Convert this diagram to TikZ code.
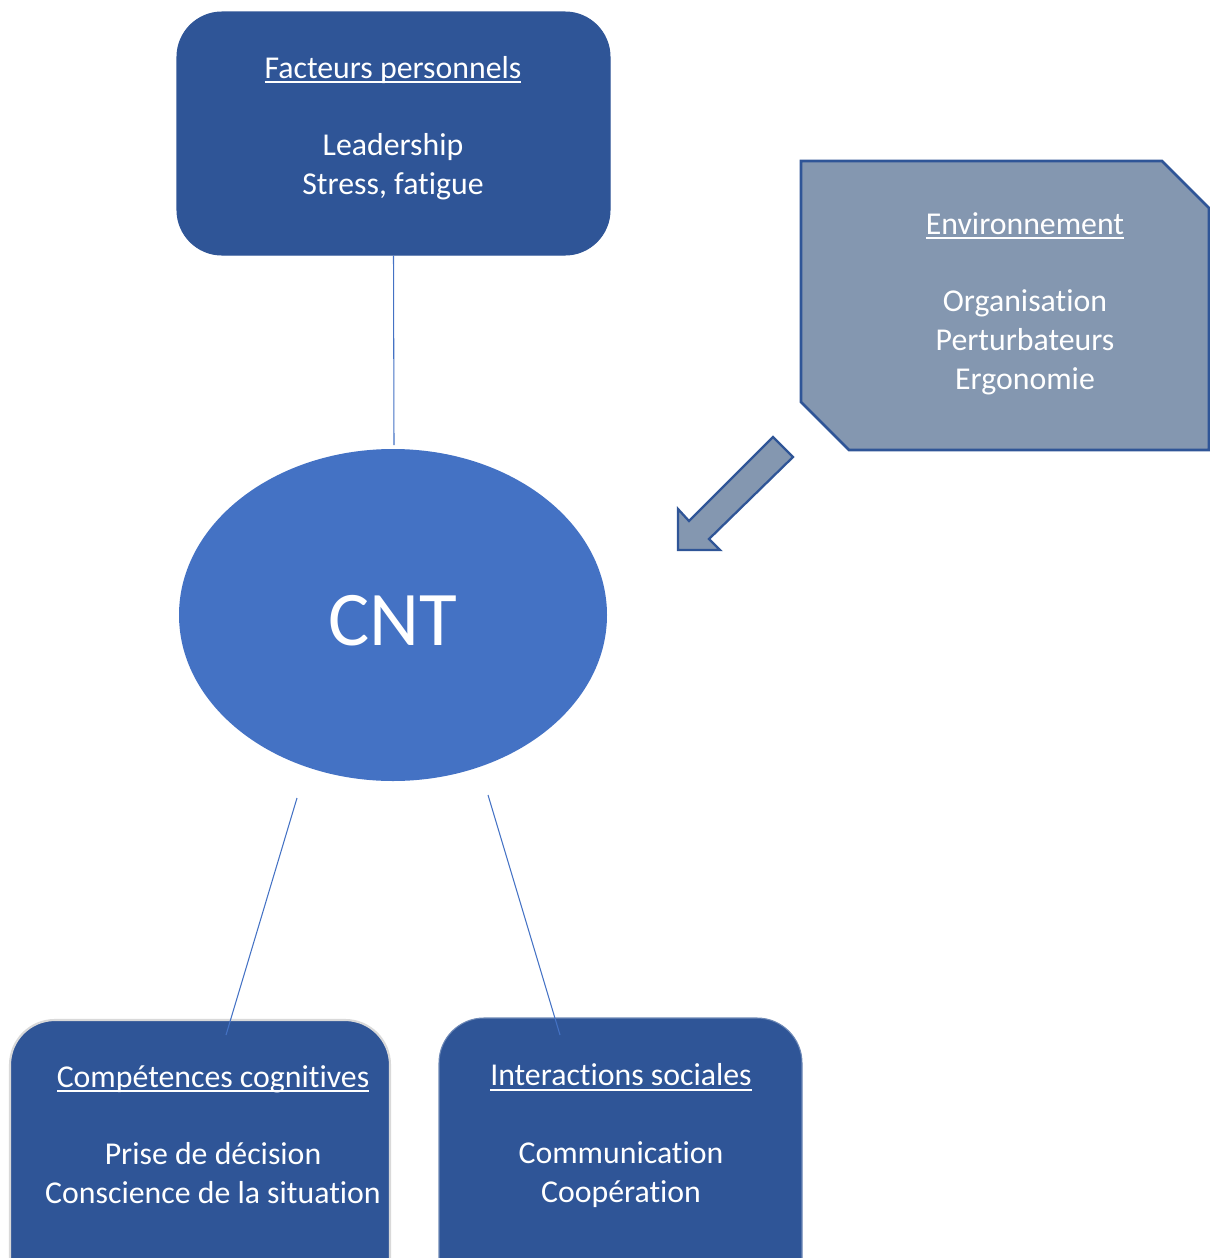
\documentclass[tikz,border=0pt]{standalone}
\usepackage{fontspec}
\setmainfont[Ligatures=NoCommon]{Carlito}
\newcommand\myul[1]{\setbox0\hbox{#1}\leavevmode\rlap{\rule[-3.0pt]{\wd0}{1.1pt}}\box0}
\usetikzlibrary{shapes.geometric}
\definecolor{dkblue}{HTML}{2F5597}
\definecolor{midblue}{HTML}{4472C4}
\definecolor{greyblue}{HTML}{8497B0}
\definecolor{edgegrey}{HTML}{D9D9D9}
\tikzset{
  box/.style={rectangle, rounded corners=0.9cm, fill=dkblue, inner sep=0pt},
  txt/.style={text=white, align=center, font=\fontsize{18.1}{22.1}\selectfont, inner sep=0pt},
  link/.style={draw=midblue, line width=0.6pt},
}
\begin{document}
\begin{tikzpicture}[x=0.02cm, y=-0.02cm]
\useasboundingbox (0,0) rectangle (1210,1258);
\clip (0,0) rectangle (1210,1258);
% top box
\node[box, draw=dkblue, line width=0.6pt, minimum width=433*0.02cm, minimum height=243*0.02cm] (fp) at (393.5,133.5) {};
\node[txt] (fpt) at (393,128) {\myul{Facteurs personnels}\\ \\ Leadership\\ Stress, fatigue};
% environment box
\draw[fill=greyblue, draw=dkblue, line width=1.6pt] (801,161) -- (1162,161) -- (1209,208) -- (1209,450) -- (849,450) -- (801,402) -- cycle;
\node[txt] (envt) at (1025,303.5) {\myul{Environnement}\\ \\ Organisation\\ Perturbateurs\\ Ergonomie};
% arrow
\draw[fill=greyblue, draw=dkblue, line width=1.3pt, line join=miter] (773,437) -- (793,457) -- (709,539) -- (720,550) -- (678,550) -- (678,509) -- (689,521) -- cycle;
% ellipse
\node[ellipse, fill=midblue, minimum width=428*0.02cm, minimum height=332*0.02cm, inner sep=0pt] (cnt) at (393,615) {};
\node[text=white, font=\fontsize{44}{50}\selectfont, inner sep=0pt] (cntt) at (393,621) {CNT};
% bottom boxes
\node[box, draw=edgegrey, line width=1.2pt, minimum width=380*0.02cm, minimum height=300*0.02cm] (cc) at (200,1170) {};
\node[txt] (cct) at (213,1134.5) {\myul{Compétences cognitives}\\ \\ Prise de décision\\ Conscience de la situation};
\node[box, draw=dkblue!70!white, line width=0.6pt, minimum width=363*0.02cm, minimum height=300*0.02cm] (is) at (620.5,1168) {};
\node[txt] (ist) at (621,1135.5) {\myul{Interactions sociales}\\ \\ Communication\\ Coopération};
% connectors
\coordinate (a1) at (394,445);
\coordinate (b1) at (297,798);
\coordinate (b2) at (226,1035);
\coordinate (c1) at (488,795);
\coordinate (c2) at (560,1035);
\draw[link] (fp.south) -- (a1);
\draw[link] (b1) -- (b2);
\draw[link] (c1) -- (c2);
\end{tikzpicture}
\end{document}
